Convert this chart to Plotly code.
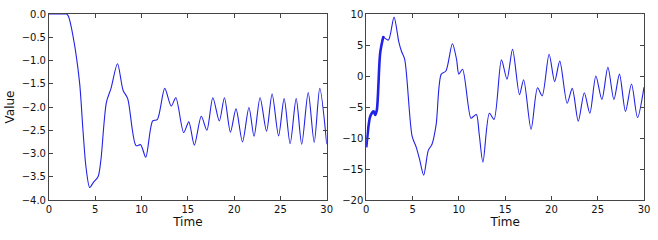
import plotly.graph_objects as go
from plotly.subplots import make_subplots

t_left = [0, 0.5, 1.0, 1.5, 1.9, 2.1, 2.6, 3.3, 3.67, 4.0, 4.4, 4.8, 5.3, 5.6, 6.2, 6.7, 7.4, 8.0, 8.5, 9.4, 9.9,
          10.45, 11.2, 11.7, 12.5, 13.2, 13.7, 14.55, 15.1, 15.7, 16.45, 17.05, 17.7, 18.4, 18.95, 19.6,
          20.2, 20.9, 21.6, 22.15, 22.8, 23.5, 24.1, 24.8, 25.4, 26.05, 26.7, 27.3, 28.0, 28.65, 29.25, 30.0]
v_left = [0, 0, 0, 0, 0, -0.05, -0.48, -1.47, -2.5, -3.3, -3.73, -3.62, -3.5, -3.15, -1.9, -1.6, -1.07, -1.64, -1.82,
          -2.83, -2.81, -3.08, -2.3, -2.27, -1.6, -1.98, -1.8, -2.55, -2.32, -2.82, -2.2, -2.5, -1.8, -2.3,
          -1.8, -2.54, -2.04, -2.75, -2.01, -2.63, -1.8, -2.52, -1.72, -2.62, -1.82, -2.79, -1.82, -2.8,
          -1.69, -2.76, -1.6, -2.8]

t_right = [0, 0.1, 0.43, 0.8, 0.96, 1.14, 1.5, 1.85, 2.0, 2.4, 3.0, 3.5, 3.8, 4.15, 4.95, 5.4, 5.75, 6.2, 6.7,
           7.1, 7.55, 8.1, 8.6, 9.3, 9.75, 10.0, 10.4, 11.3, 11.6, 11.9, 12.2, 12.6, 13.3, 13.8, 14.6, 15.2,
           15.8, 16.55, 17.0, 17.8, 18.5, 19.0, 19.75, 20.35, 20.9, 21.7, 22.25, 22.9, 23.55, 24.15, 24.8,
           25.45, 26.1, 26.75, 27.35, 28.0, 28.65, 29.3, 30.0]
v_right = [-11.5, -10, -6.5, -5.7, -6.3, -5.5, 3.7, 6.4, 6.1, 5.8, 9.5, 5.6, 4.0, 2.7, -9.7, -11.5, -13.4, -16,
           -12, -11, -7.8, 0.3, 0.8, 5.2, 2.7, 0.3, 1.1, -6.8, -6.5, -6.2, -9.4, -13.9, -6.0, -7.0, 2.6, -0.5,
           4.3, -3.0, -0.6, -8.6, -1.9, -3.2, 3.5, -0.9, 2.4, -4.4, -2.0, -7.3, -2.7, -6.0, 0.0, -3.8, 1.4,
           -3.8, 0.3, -5.7, -1.3, -6.7, -1.8]

thick_n = 8  # first samples drawn with a heavier stroke

fig = make_subplots(rows=1, cols=2, horizontal_spacing=0.0665)
line_color = "#2222e6"
fig.add_trace(go.Scatter(x=t_left, y=v_left, mode="lines", line=dict(color=line_color, width=1.1, shape="spline", smoothing=0.8)), 1, 1)
fig.add_trace(go.Scatter(x=t_right, y=v_right, mode="lines", line=dict(color=line_color, width=1.1, shape="spline", smoothing=0.8)), 1, 2)
fig.add_trace(go.Scatter(x=t_right[:thick_n], y=v_right[:thick_n], mode="lines", line=dict(color=line_color, width=2.6, shape="spline", smoothing=0.8)), 1, 2)

axis_common = dict(showgrid=False, zeroline=False, showline=True, linecolor="#444", linewidth=1,
                   mirror="allticks", ticks="inside", ticklen=4, tickcolor="#444",
                   tickfont=dict(family="DejaVu Sans", size=10, color="#111"))
fig.update_xaxes(range=[0, 30], dtick=5, title=dict(text="Time", font=dict(family="DejaVu Sans", size=12, color="#111"), standoff=3), **axis_common)
fig.update_yaxes(**axis_common)
fig.update_yaxes(range=[-4, 0], dtick=0.5, tickformat=".1f", title=dict(text="Value", font=dict(family="DejaVu Sans", size=12, color="#111"), standoff=4), row=1, col=1)
fig.update_yaxes(range=[-20, 10], dtick=5, row=1, col=2)

fig.update_layout(width=658, height=240, margin=dict(l=49, r=8, t=10, b=40), showlegend=False,
                  plot_bgcolor="white", paper_bgcolor="white")
fig.write_html("out.html")
